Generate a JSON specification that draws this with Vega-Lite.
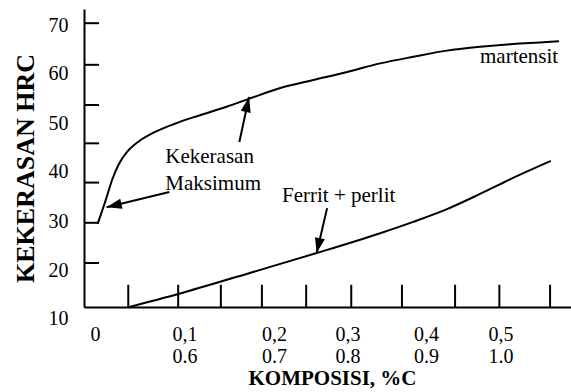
{
  "$schema": "https://vega.github.io/schema/vega-lite/v6.json",
  "width": 487,
  "height": 298,
  "autosize": {"type": "none"},
  "padding": {"left": 84, "top": 9, "right": 0, "bottom": 85},
  "background": "white",
  "config": {"view": {"stroke": null}, "font": "Liberation Serif"},
  "datasets": {
    "curves": [
      {"series": "martensit", "x": -0.008, "y": 27.6},
      {"series": "martensit", "x": 0.002, "y": 32.6},
      {"series": "martensit", "x": 0.010, "y": 36.9},
      {"series": "martensit", "x": 0.0185, "y": 40.3},
      {"series": "martensit", "x": 0.029, "y": 42.9},
      {"series": "martensit", "x": 0.043, "y": 45.0},
      {"series": "martensit", "x": 0.062, "y": 46.9},
      {"series": "martensit", "x": 0.087, "y": 48.7},
      {"series": "martensit", "x": 0.120, "y": 50.6},
      {"series": "martensit", "x": 0.153, "y": 52.4},
      {"series": "martensit", "x": 0.178, "y": 53.9},
      {"series": "martensit", "x": 0.223, "y": 56.5},
      {"series": "martensit", "x": 0.260, "y": 58.0},
      {"series": "martensit", "x": 0.302, "y": 59.7},
      {"series": "martensit", "x": 0.343, "y": 61.5},
      {"series": "martensit", "x": 0.384, "y": 62.9},
      {"series": "martensit", "x": 0.426, "y": 64.2},
      {"series": "martensit", "x": 0.467, "y": 65.0},
      {"series": "martensit", "x": 0.508, "y": 65.6},
      {"series": "martensit", "x": 0.550, "y": 66.0},
      {"series": "martensit", "x": 0.565, "y": 66.2},
      {"series": "ferrit", "x": 0.031, "y": 10.0},
      {"series": "ferrit", "x": 0.091, "y": 12.7},
      {"series": "ferrit", "x": 0.181, "y": 17.2},
      {"series": "ferrit", "x": 0.264, "y": 21.4},
      {"series": "ferrit", "x": 0.343, "y": 25.6},
      {"series": "ferrit", "x": 0.384, "y": 28.0},
      {"series": "ferrit", "x": 0.426, "y": 30.7},
      {"series": "ferrit", "x": 0.467, "y": 33.9},
      {"series": "ferrit", "x": 0.508, "y": 37.3},
      {"series": "ferrit", "x": 0.555, "y": 40.9}
    ],
    "xticks": [
      {"x": 0.030}, {"x": 0.092}, {"x": 0.145}, {"x": 0.196}, {"x": 0.251},
      {"x": 0.307}, {"x": 0.370}, {"x": 0.436}, {"x": 0.491}, {"x": 0.554}
    ],
    "yticks": [
      {"y": 70}, {"y": 61.2}, {"y": 52.7}, {"y": 44.6}, {"y": 36.3}, {"y": 27.8}, {"y": 19.3}
    ],
    "arrows": [
      {"x": 0.003, "y": 31.1, "x2": 0.081, "y2": 34.3, "angle": 257},
      {"x": 0.180, "y": 54.4, "x2": 0.168, "y2": 44.9, "angle": 12.5},
      {"x": 0.264, "y": 21.4, "x2": 0.277, "y2": 30.9, "angle": 192.5}
    ],
    "notes": [
      {"x": 0.076, "y": 40.4, "text": "Kekerasan\nMaksimum"},
      {"x": 0.221, "y": 32.2, "text": "Ferrit + perlit"},
      {"x": 0.467, "y": 61.6, "text": "martensit"}
    ]
  },
  "layer": [
    {
      "data": {"name": "curves"},
      "mark": {"type": "line", "color": "black", "strokeWidth": 2, "interpolate": "monotone"},
      "encoding": {
        "x": {
          "field": "x",
          "type": "quantitative",
          "scale": {"domain": [-0.025, 0.58], "nice": false, "zero": false},
          "axis": {
            "values": [0, 0.1, 0.2, 0.3, 0.4, 0.5],
            "labelExpr": "datum.value < 0.05 ? '0' : [replace(format(datum.value, '.1f'), '.', ','), format(datum.value + 0.5, '.1f')]",
            "ticks": false,
            "grid": false,
            "domainColor": "black",
            "domainWidth": 2,
            "labelFont": "Liberation Serif",
            "labelFontSize": 20,
            "labelColor": "black",
            "labelPadding": 17,
            "labelLineHeight": 22,
            "labelOverlap": false,
            "labelFlush": false,
            "labelOffset": {
              "condition": [
                {"test": "datum.value < 0.05", "value": -9},
                {"test": "datum.value > 0.15 && datum.value < 0.25", "value": 9},
                {"test": "datum.value > 0.25 && datum.value < 0.35", "value": 2},
                {"test": "datum.value > 0.45", "value": -6}
              ],
              "value": 0
            },
            "title": "KOMPOSISI, %C",
            "titleFont": "Liberation Serif",
            "titleFontSize": 21,
            "titleFontWeight": "bold",
            "titleColor": "black",
            "titleX": 248,
            "titleY": 77,
            "titleBaseline": "alphabetic",
            "titleAlign": "center"
          }
        },
        "y": {
          "field": "y",
          "type": "quantitative",
          "scale": {"domain": [10, 73], "nice": false, "zero": false},
          "axis": {
            "values": [10, 20, 30, 40, 50, 60, 70],
            "ticks": false,
            "grid": false,
            "domainColor": "black",
            "domainWidth": 2,
            "labelFont": "Liberation Serif",
            "labelFontSize": 20,
            "labelColor": "black",
            "labelPadding": 16,
            "labelOverlap": false,
            "labelFlush": false,
            "labelOffset": {
              "condition": [
                {"test": "datum.value <= 20", "value": 11},
                {"test": "datum.value <= 30", "value": 9},
                {"test": "datum.value <= 40", "value": 6.5},
                {"test": "datum.value <= 50", "value": 5.5},
                {"test": "datum.value <= 60", "value": 3}
              ],
              "value": 2
            },
            "title": "KEKERASAN HRC",
            "titleFont": "Liberation Serif",
            "titleFontSize": 26,
            "titleFontWeight": "bold",
            "titleColor": "black",
            "titleAngle": 270,
            "titleX": -51,
            "titleY": 159,
            "titleBaseline": "alphabetic",
            "titleAlign": "center"
          }
        },
        "detail": {"field": "series"}
      }
    },
    {
      "data": {"name": "xticks"},
      "mark": {"type": "rule", "color": "black", "strokeWidth": 2},
      "encoding": {
        "x": {"field": "x", "type": "quantitative"},
        "y": {"datum": 10, "type": "quantitative"},
        "y2": {"datum": 14.7}
      }
    },
    {
      "data": {"name": "yticks"},
      "mark": {"type": "rule", "color": "black", "strokeWidth": 2},
      "encoding": {
        "y": {"field": "y", "type": "quantitative"},
        "x": {"datum": -0.025, "type": "quantitative"},
        "x2": {"datum": -0.0063}
      }
    },
    {
      "data": {"name": "arrows"},
      "mark": {"type": "rule", "color": "black", "strokeWidth": 2},
      "encoding": {
        "x": {"field": "x", "type": "quantitative"},
        "y": {"field": "y", "type": "quantitative"},
        "x2": {"field": "x2"},
        "y2": {"field": "y2"}
      }
    },
    {
      "data": {"name": "arrows"},
      "mark": {"type": "point", "shape": "M0,0L0.8,2.4L-0.8,2.4Z", "filled": true, "color": "black", "opacity": 1, "size": 160},
      "encoding": {
        "x": {"field": "x", "type": "quantitative"},
        "y": {"field": "y", "type": "quantitative"},
        "angle": {"field": "angle", "type": "quantitative", "scale": null}
      }
    },
    {
      "data": {"name": "notes"},
      "mark": {"type": "text", "align": "left", "baseline": "alphabetic", "font": "Liberation Serif", "fontSize": 21, "lineHeight": 27, "lineBreak": "\n", "color": "black"},
      "encoding": {
        "x": {"field": "x", "type": "quantitative"},
        "y": {"field": "y", "type": "quantitative"},
        "text": {"field": "text"}
      }
    }
  ]
}
